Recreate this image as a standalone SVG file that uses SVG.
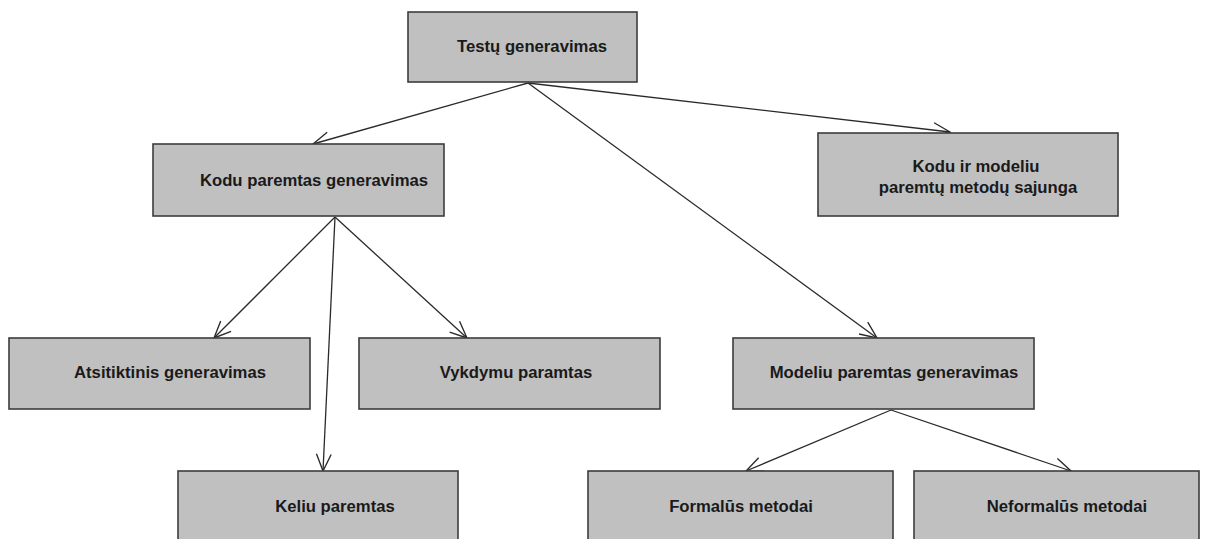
<svg xmlns="http://www.w3.org/2000/svg" width="1206" height="539" viewBox="0 0 1206 539">
  <style>
    .box { fill: #c0c0c0; stroke: #3c3c3c; stroke-width: 1.6; }
    .lbl { font-family: "Liberation Sans", Arial, sans-serif; font-weight: bold; font-size: 16.7px; fill: #1a1a1a; text-anchor: middle; }
    .edge { fill: none; stroke: #2a2a2a; stroke-width: 1.3; marker-end: url(#open); }
  </style>
  <defs>
    <marker id="open" markerUnits="userSpaceOnUse" markerWidth="20" markerHeight="20" viewBox="-17 -9 19 18" refX="0" refY="0" orient="auto">
      <path d="M-16,-7 L0,0 L-16,7" fill="none" stroke="#2a2a2a" stroke-width="1.3"/>
    </marker>
  </defs>
  <rect width="1206" height="539" fill="#ffffff"/>

  <g id="connectors">
    <line class="edge" x1="528" y1="83" x2="313" y2="144"/>
    <line class="edge" x1="528" y1="83" x2="950" y2="132"/>
    <line class="edge" x1="528" y1="83" x2="877" y2="338"/>
    <line class="edge" x1="335" y1="217" x2="214" y2="338"/>
    <line class="edge" x1="335" y1="217" x2="323" y2="471"/>
    <line class="edge" x1="335" y1="217" x2="467" y2="338"/>
    <line class="edge" x1="891" y1="410" x2="746" y2="471"/>
    <line class="edge" x1="891" y1="410" x2="1071" y2="471"/>
  </g>

  <g id="testu-generavimas">
    <rect class="box" x="408" y="12" width="229" height="70"/>
    <text class="lbl" x="532" y="52">Testų generavimas</text>
  </g>
  <g id="kodu-paremtas">
    <rect class="box" x="153" y="144" width="291" height="72"/>
    <text class="lbl" x="314" y="186">Kodu paremtas generavimas</text>
  </g>
  <g id="kodu-ir-modeliu">
    <rect class="box" x="818" y="133" width="300" height="83"/>
    <text class="lbl" x="976" y="172">Kodu ir modeliu</text>
    <text class="lbl" x="978" y="193">paremtų metodų sajunga</text>
  </g>
  <g id="atsitiktinis">
    <rect class="box" x="9" y="338" width="301" height="71"/>
    <text class="lbl" x="170" y="378">Atsitiktinis generavimas</text>
  </g>
  <g id="vykdymu-paramtas">
    <rect class="box" x="359" y="338" width="301" height="71"/>
    <text class="lbl" x="516" y="378">Vykdymu paramtas</text>
  </g>
  <g id="modeliu-paremtas">
    <rect class="box" x="733" y="338" width="301" height="71"/>
    <text class="lbl" x="894" y="378">Modeliu paremtas generavimas</text>
  </g>
  <g id="keliu-paremtas">
    <rect class="box" x="178" y="471" width="280" height="80"/>
    <text class="lbl" x="335" y="512">Keliu paremtas</text>
  </g>
  <g id="formalus-metodai">
    <rect class="box" x="588" y="471" width="305" height="80"/>
    <text class="lbl" x="741" y="512">Formalūs metodai</text>
  </g>
  <g id="neformalus-metodai">
    <rect class="box" x="914" y="471" width="285" height="80"/>
    <text class="lbl" x="1067" y="512">Neformalūs metodai</text>
  </g>
</svg>
